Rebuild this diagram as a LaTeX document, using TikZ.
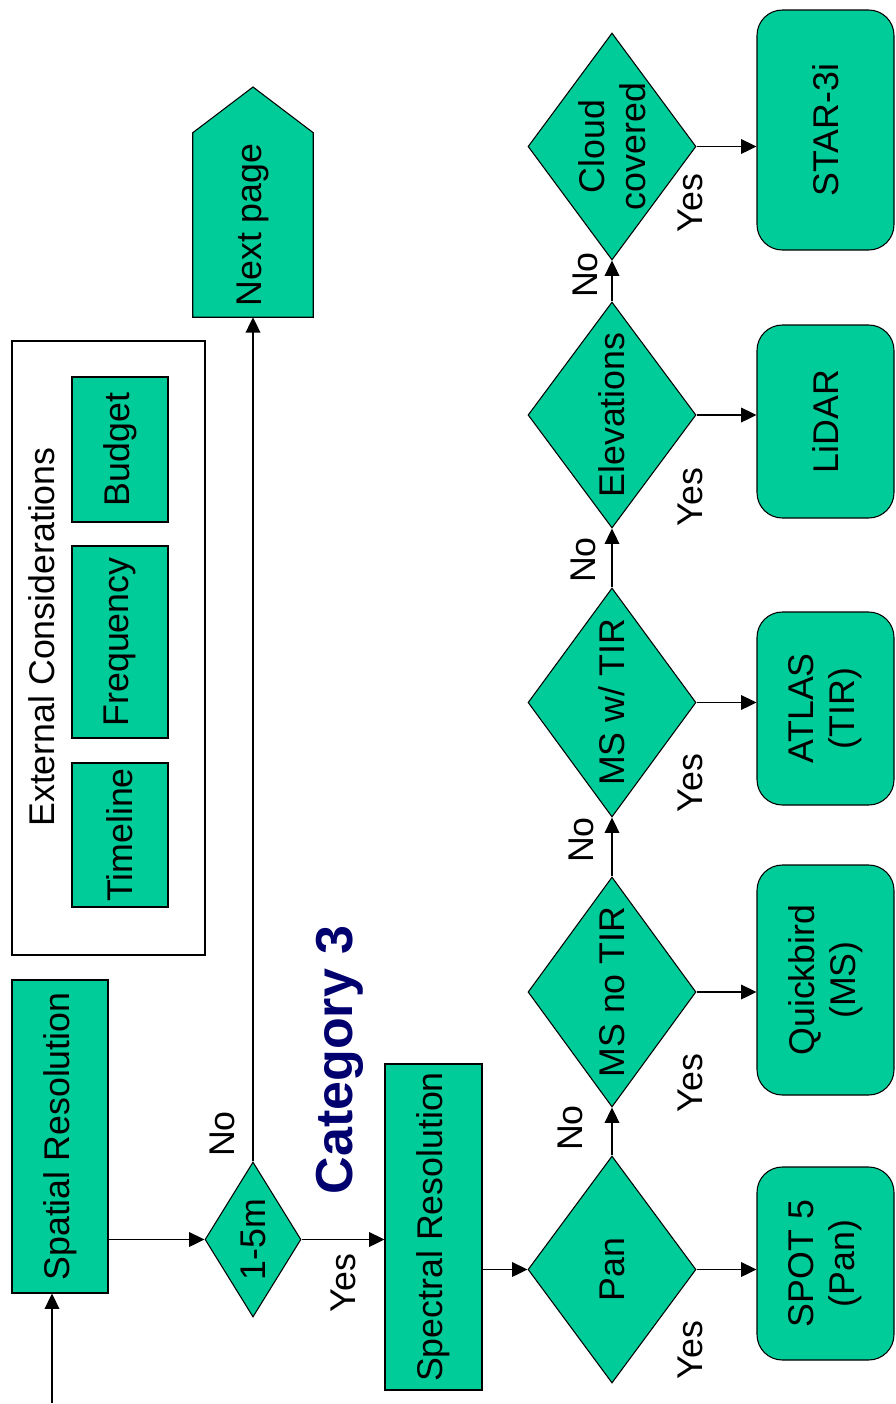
\documentclass[tikz,border=0pt]{standalone}
\usepackage{fontspec}
\setmainfont{Liberation Sans}
\usepackage{graphicx}
\usetikzlibrary{shapes.geometric,arrows.meta,backgrounds}
\definecolor{boxgreen}{RGB}{0,204,153}
\definecolor{catnavy}{RGB}{0,0,110}
\newcommand{\rottext}[1]{\rotatebox{90}{\vbox{\baselineskip=31pt\halign{\hfil##\hfil\cr#1\crcr}}}}
\begin{document}
\begin{tikzpicture}[x=0.75pt,y=-0.75pt,
  font=\fontsize{26.8}{31}\selectfont,
  every node/.style={inner sep=0pt},
  sz/.style 2 args={minimum width=#1*0.75pt,minimum height=#2*0.75pt},
  gbox/.style={rectangle,draw=black,line width=0.8pt,fill=boxgreen},
  rbox/.style={gbox,rounded corners=19pt},
  dia/.style={diamond,draw=black,line width=0.8pt,fill=boxgreen,aspect=#1},
  lbl/.style={rotate=90},
  arr/.style={line width=1pt,-{Triangle[length=11.5pt,width=11pt]}}]
\useasboundingbox (0,0) rectangle (896,1404);

% left column
\node[gbox,sz={96}{313}] (spatial) at (60,1136.5) {\rottext{Spatial Resolution}};
\coordinate (in) at (52,1403);
\node[dia=0.62,sz={96}{155}] (d1) at (253,1239.5) {\rottext{1-5m}};
\node[sz={120}{184}] (next) at (253,225) {\rottext{Next page}};
\coordinate (tip) at (253,87);
\begin{scope}[on background layer]
\filldraw[fill=boxgreen,draw=black,line width=0.8pt] (next.south west) -- (next.north west) -- (tip) -- (next.north east) -- (next.south east) -- cycle;
\end{scope}
\node[gbox,sz={97}{326}] (spectral) at (433.5,1227) {\rottext{Spectral Resolution}};
\node[lbl,font=\fontsize{39}{44}\selectfont\bfseries,text=catnavy] (cat) at (340,1060) {Category 3};

% external considerations
\node[rectangle,draw=black,line width=0.8pt,sz={193}{614}] (ext) at (108.5,648) {};
\node[lbl] (exttitle) at (42,637) {External Considerations};
\node[gbox,sz={96}{145}] (budget) at (120,449.5) {\rottext{Budget}};
\node[gbox,sz={96}{192}] (freq) at (120,642) {\rottext{Frequency}};
\node[gbox,sz={96}{144}] (timeline) at (120,835) {\rottext{Timeline}};

% decision column
\node[dia=0.74,sz={168}{227}] (pan) at (612,1269.5) {\rottext{Pan}};
\node[dia=0.73,sz={168}{230}] (mnt) at (612,992) {\rottext{MS no TIR}};
\node[dia=0.73,sz={168}{229}] (mwt) at (612,702.5) {\rottext{MS w/ TIR}};
\node[dia=0.74,sz={168}{226}] (elev) at (612,415) {\rottext{Elevations}};
\node[dia=0.74,sz={168}{227}] (cloud) at (612,146.5) {\rottext{Cloud\cr covered}};

% results column
\node[rbox,sz={137}{193}] (spot) at (825.5,1263.5) {\rottext{SPOT 5\cr (Pan)}};
\node[rbox,sz={137}{230}] (quick) at (825.5,980) {\rottext{Quickbird\cr (MS)}};
\node[rbox,sz={137}{193}] (atlas) at (825.5,708.5) {\rottext{ATLAS\cr (TIR)}};
\node[rbox,sz={137}{193}] (lidar) at (825.5,421.5) {\rottext{LiDAR}};
\node[rbox,sz={137}{240}] (star) at (825.5,130) {\rottext{STAR-3i}};

% labels
\node[lbl] (no1) at (222,1134) {No};
\node[lbl] (yes1) at (343,1283) {Yes};
\node[lbl] (no2) at (570,1128) {No};
\node[lbl] (no3) at (581,840) {No};
\node[lbl] (no4) at (583,560) {No};
\node[lbl] (no5) at (585,275) {No};
\node[lbl] (yes2) at (690,1350) {Yes};
\node[lbl] (yes3) at (690,1083) {Yes};
\node[lbl] (yes4) at (690,783) {Yes};
\node[lbl] (yes5) at (690,497) {Yes};
\node[lbl] (yes6) at (690,203) {Yes};

% connectors
\draw[arr] (in) -- (in |- spatial.south);
\draw[arr] (spatial.east |- d1.west) -- (d1.west);
\draw[arr] (d1.north) -- (next.south);
\draw[arr] (d1.east) -- (d1.east -| spectral.west);
\draw[arr] (spectral.east |- pan.west) -- (pan.west);
\draw[arr] (pan.north) -- (mnt.south);
\draw[arr] (mnt.north) -- (mwt.south);
\draw[arr] (mwt.north) -- (elev.south);
\draw[arr] (elev.north) -- (cloud.south);
\draw[arr] (pan.east) -- (pan.east -| spot.west);
\draw[arr] (mnt.east) -- (mnt.east -| quick.west);
\draw[arr] (mwt.east) -- (mwt.east -| atlas.west);
\draw[arr] (elev.east) -- (elev.east -| lidar.west);
\draw[arr] (cloud.east) -- (cloud.east -| star.west);
\end{tikzpicture}
\end{document}
